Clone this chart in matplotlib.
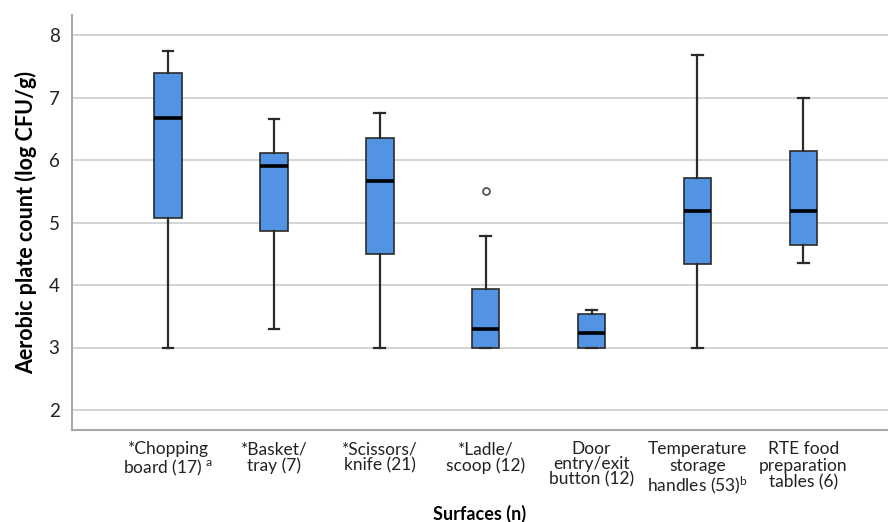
import matplotlib
matplotlib.use("Agg")
import matplotlib.pyplot as plt

plt.rcParams["font.family"] = ["Lato", "DejaVu Sans"]
plt.rcParams["mathtext.fontset"] = "custom"
plt.rcParams["mathtext.rm"] = "Lato"
plt.rcParams["mathtext.it"] = "Lato"

# surfaces and tick labels
labels = [
    "*Chopping\nboard (17) $^{\\mathrm{a}}$",
    "*Basket/\ntray (7)",
    "*Scissors/\nknife (21)",
    "*Ladle/\nscoop (12)",
    "Door\nentry/exit\nbutton (12)",
    "Temperature\nstorage\nhandles (53)$^{\\mathrm{b}}$",
    "RTE food\npreparation\ntables (6)",
]

# box statistics (log CFU/g)
whisker_low = [3.00, 3.30, 3.00, 3.00, 3.00, 3.00, 4.36]
q1 = [5.07, 4.87, 4.50, 3.00, 3.00, 4.33, 4.64]
median = [6.68, 5.91, 5.66, 3.30, 3.23, 5.18, 5.19]
q3 = [7.39, 6.12, 6.35, 3.94, 3.54, 5.72, 6.15]
whisker_high = [7.74, 6.65, 6.76, 4.79, 3.60, 7.68, 7.00]
outliers = [[], [], [], [5.51], [], [], []]

stats = []
for i in range(len(labels)):
    stats.append({
        "whislo": whisker_low[i], "q1": q1[i], "med": median[i],
        "q3": q3[i], "whishi": whisker_high[i], "fliers": outliers[i],
    })

fig = plt.figure(figsize=(8.88, 5.22), dpi=100)
ax = fig.add_axes([72 / 888, 92 / 522, 1 - 72 / 888, (430 - 15) / 522])

ax.bxp(stats, positions=range(len(labels)), widths=0.26, patch_artist=True,
       boxprops=dict(facecolor="#5393e3", edgecolor="#2b2b2b", linewidth=1.2),
       medianprops=dict(color="black", linewidth=2.6),
       whiskerprops=dict(color="#2b2b2b", linewidth=1.6),
       capprops=dict(color="#2b2b2b", linewidth=1.6),
       capwidths=0.1,
       flierprops=dict(marker="o", markersize=5, markerfacecolor="white",
                       markeredgecolor="#555555", markeredgewidth=1.3),
       zorder=3)

ax.set_xlim(-0.907, 6.8)
ax.set_ylim(1.68, 8.32)
ax.set_yticks([2, 3, 4, 5, 6, 7, 8])
ax.set_xticks(range(len(labels)))
ax.set_xticklabels(labels, fontsize=12.5, linespacing=1.05, color="#222222")
# the door label sits a little tighter in the original
door = ax.get_xticklabels()[4]
door.set_linespacing(0.95)
ax.tick_params(axis="y", labelsize=13.5, length=0, pad=9, colors="#222222")
ax.tick_params(axis="x", length=0, pad=8)

ax.yaxis.grid(True, color="#d4d4d4", linewidth=1.4, zorder=0)
ax.set_axisbelow(True)
for side in ["top", "right"]:
    ax.spines[side].set_visible(False)
for side in ["left", "bottom"]:
    ax.spines[side].set_color("#a8a8a8")
    ax.spines[side].set_linewidth(1.5)

ax.set_ylabel("Aerobic plate count (log CFU/g)", fontsize=15.5, fontweight="bold",
              labelpad=8)
ax.set_xlabel("Surfaces (n)", fontsize=13, fontweight="bold", labelpad=6)

fig.savefig("out.png", dpi=100)
